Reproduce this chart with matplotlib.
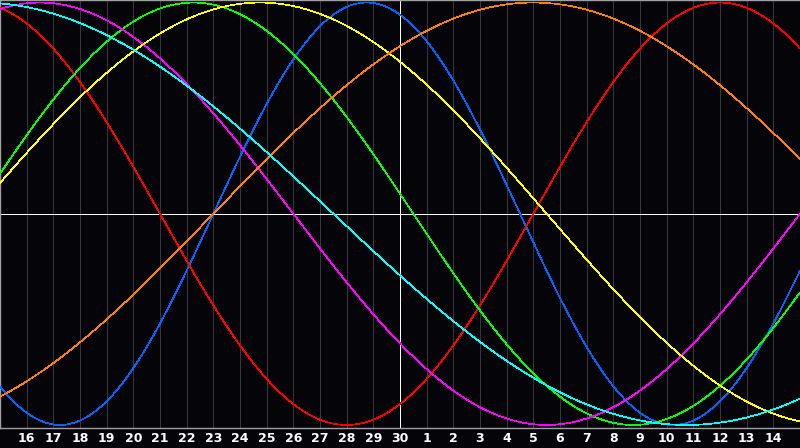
import numpy as np
import matplotlib
matplotlib.use("Agg")
import matplotlib.pyplot as plt

# Biorhythm cycles (period in days) and their colours
cycle_names = ["Physical", "Emotional", "Intellectual", "Intuitive",
               "Aesthetic", "Awareness", "Spiritual"]
cycle_periods = [23, 28, 33, 38, 43, 48, 53]
cycle_colors = ["#0064ff", "#ff0000", "#00ff00", "#ff00ff",
                "#ffff00", "#ff8000", "#00ffff"]

# Days since birth at the left edge of the chart (day 15)
days_since_birth_start = 29800
# Day labels along the bottom (left edge = 15, centre = 30)
day_labels = [16, 17, 18, 19, 20, 21, 22, 23, 24, 25, 26, 27, 28, 29, 30,
              1, 2, 3, 4, 5, 6, 7, 8, 9, 10, 11, 12, 13, 14]
n_days = 30
today_index = 15

W, H = 800, 448
fig = plt.figure(figsize=(W / 100, H / 100), dpi=100, facecolor="#050409")
ax = fig.add_axes([0, (H - 427.5) / H, 1, 427.5 / H])
ax.set_facecolor("#050409")

ax.set_xlim(0, n_days)
ax.set_ylim(-1.012, 1.012)

PX = 0.72  # one pixel in points

# day grid
for k in range(1, n_days):
    ax.axvline(k, color="#38383c", lw=PX, zorder=1, antialiased=False)

t = np.linspace(0, n_days, 1601)
for name, p, c in zip(cycle_names, cycle_periods, cycle_colors):
    n = days_since_birth_start + t
    ax.plot(t, np.sin(2 * np.pi * n / p), color=c, lw=0.5, zorder=3,
            antialiased=False, solid_capstyle="butt")

ax.axhline(0, color="white", lw=PX, zorder=2, antialiased=False)
ax.axvline(today_index, color="white", lw=PX, zorder=2, antialiased=False)

for sp in ["top", "left", "bottom"]:
    ax.spines[sp].set_color("#a0a0a0")
    ax.spines[sp].set_linewidth(1.0)
ax.spines["right"].set_visible(False)

ax.set_xticks(range(1, n_days))
ax.set_xticklabels([str(d) for d in day_labels], color="white",
                   fontsize=9, fontweight="bold", family="DejaVu Sans")
ax.tick_params(axis="x", length=0, pad=3)
ax.set_yticks([])

fig.savefig("out.png", dpi=100, facecolor=fig.get_facecolor())
